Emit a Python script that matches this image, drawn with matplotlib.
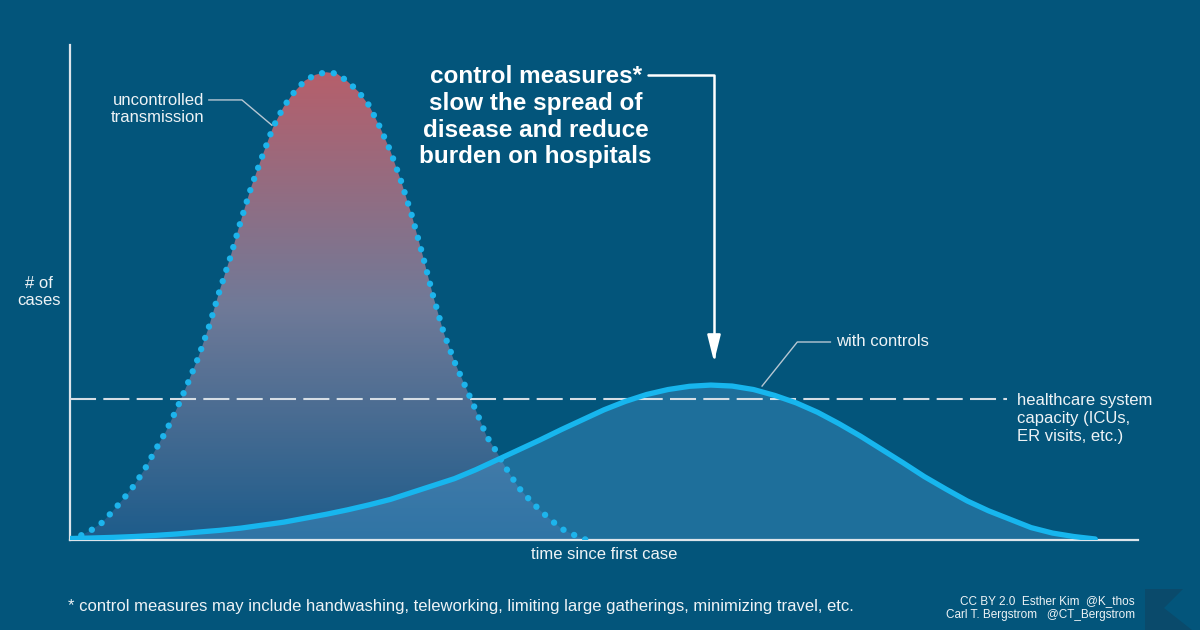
import numpy as np
import matplotlib.pyplot as plt
from matplotlib.patches import Polygon
from matplotlib.colors import LinearSegmentedColormap

plt.rcParams['font.family'] = ['Liberation Sans', 'DejaVu Sans']

# uncontrolled transmission (dotted curve)
t_unc = [0, 1, 2, 3, 4, 5, 6, 7, 8, 9, 10, 11, 12, 13, 14, 15, 16, 17, 18, 19, 20, 21, 22, 23, 24,
         25, 26, 27, 28, 29, 30, 31, 32, 33, 34, 35, 36, 37, 38, 39, 40, 41, 42, 43, 44, 45, 46, 47, 48, 48.4]
cases_unc = [0.2, 0.9, 2.0, 3.5, 5.8, 8.3, 11.0, 14.3, 18.2, 22.0, 26.5, 31.5, 36.8, 43.0, 50.3, 57.0,
             64.5, 71.5, 77.5, 83.3, 87.5, 90.5, 92.8, 94.0, 94.5,
             94.2, 92.6, 90.6, 87.8, 83.5, 78.6, 72.5, 65.6, 57.7, 49.3, 41.8, 36.0, 31.1, 26.2, 21.0,
             17.6, 13.9, 10.6, 8.2, 6.0, 4.1, 2.3, 1.2, 0.3, 0.0]

# with controls (solid curve)
t_ctl = [0, 2, 4, 6, 8, 10, 12, 14, 16, 18, 20, 22, 24, 26, 28, 30, 32, 34, 36, 38, 40, 42, 44, 46, 48,
         50, 52, 54, 56, 58, 60, 62, 64, 66, 68, 70, 72, 74, 76, 78, 80, 82, 84, 86, 88, 90, 92, 94, 96]
cases_ctl = [0.3, 0.4, 0.53, 0.7, 0.93, 1.22, 1.6, 1.95, 2.4, 3.0, 3.6, 4.4, 5.2, 6.1, 7.1, 8.2, 9.6,
             11.0, 12.4, 14.2, 16.2, 18.2, 20.2, 22.3, 24.3, 26.3, 28.0, 29.4, 30.4, 31.05, 31.3,
             31.1, 30.4, 29.2, 27.7, 25.8, 23.5, 21.0, 18.3, 15.6, 12.8, 10.3, 7.9, 5.9, 4.2, 2.5,
             1.4, 0.7, 0.2]

# healthcare system capacity (dashed line)
capacity = 28.5
capacity_end = 87.7

bg = '#03557b'
txt = '#eef3f6'

fig = plt.figure(figsize=(12, 6.3), dpi=100)
fig.patch.set_facecolor(bg)
ax = fig.add_axes([70 / 1200, 90 / 630, 1068 / 1200, 495 / 630])
ax.set_facecolor(bg)

# gradient fill under the uncontrolled curve
grad_cmap = LinearSegmentedColormap.from_list('unc', [(0, '#1d5c8b'), (0.5, '#707a98'), (1, '#b65f6b')])
grad = np.linspace(0, 1, 256).reshape(-1, 1)
img = ax.imshow(grad, cmap=grad_cmap, origin='lower', aspect='auto',
                extent=[0, max(t_unc), 0, max(cases_unc)], zorder=1)
area = ax.fill_between(t_unc, cases_unc, color='none', lw=0)
img.set_clip_path(area.get_paths()[0], transform=ax.transData)

# fill under the controlled curve
ax.fill_between(t_ctl, cases_ctl, color='#52a2d8', alpha=0.35, lw=0, zorder=2)

ax.hlines(capacity, 0, capacity_end, color='#d6dee5', lw=1.5, linestyles=(0, (12.5, 3.5)), zorder=3)

ax.plot(t_unc, cases_unc, color='#1db4ec', lw=4.6, ls=(0, (0.01, 1.85)),
        dash_capstyle='round', zorder=4)
ax.plot(t_ctl, cases_ctl, color='#17b6ee', lw=3.8, solid_capstyle='round',
        solid_joinstyle='round', zorder=5)

ax.set_xlim(0, 100)
ax.set_ylim(0, 100)
ax.set_xticks([])
ax.set_yticks([])
for s in ['top', 'right']:
    ax.spines[s].set_visible(False)
for s in ['left', 'bottom']:
    ax.spines[s].set_color('#dde5eb')
    ax.spines[s].set_linewidth(1.6)
ax.set_xlabel('time since first case', fontsize=12, color=txt, labelpad=5)

# labels with leader lines
ax.text(12.6, 87.1, 'uncontrolled\ntransmission', ha='right', va='center', ma='right',
        fontsize=12, color=txt, linespacing=1.2)
ax.plot([13.0, 16.1, 18.9], [88.9, 88.9, 83.8], color='#b7c7d3', lw=1.0, zorder=6)

ax.text(71.7, 40.0, 'with controls', ha='left', va='center', fontsize=12, color=txt)
ax.plot([71.2, 68.1, 64.8], [40.0, 40.0, 31.1], color='#b7c7d3', lw=1.0, zorder=6)

ax.text(88.7, 24.6, 'healthcare system\ncapacity (ICUs,\nER visits, etc.)', ha='left', va='center',
        fontsize=12, color=txt, linespacing=1.25)

ax.text(43.6, 85.5, 'control measures*\nslow the spread of\ndisease and reduce\nburden on hospitals',
        ha='center', va='center', ma='center', fontsize=17.5, fontweight='bold', color='white',
        linespacing=1.2)
ax.annotate('', xy=(60.3, 36.0), xytext=(54.1, 93.9),
            arrowprops=dict(arrowstyle='-|>,head_length=1.0,head_width=0.25', mutation_scale=16,
                            connectionstyle='angle,angleA=0,angleB=90,rad=0',
                            color='white', lw=1.8, shrinkA=0, shrinkB=0))

fig.text(39 / 1200, 1 - 292 / 630, '# of\ncases', ha='center', va='center', ma='center',
         fontsize=12, color=txt, linespacing=1.2)

fig.text(68 / 1200, 1 - 606 / 630,
         '* control measures may include handwashing, teleworking, limiting large gatherings, minimizing travel, etc.',
         ha='left', va='center', fontsize=12, color=txt)

fig.text(1135 / 1200, 1 - 608 / 630, 'CC BY 2.0  Esther Kim  @K_thos\nCarl T. Bergstrom   @CT_Bergstrom',
         ha='right', va='center', ma='right', fontsize=8.5, color=txt, linespacing=1.25)

# corner logo
logo = Polygon([(11.45, 0.41), (11.83, 0.41), (11.64, 0.22), (11.92, 0.0), (11.45, 0.0)],
               closed=True, facecolor='#0a4a6b', edgecolor='none', transform=fig.dpi_scale_trans)
fig.add_artist(logo)

fig.savefig('out.png', dpi=100, facecolor=bg)
